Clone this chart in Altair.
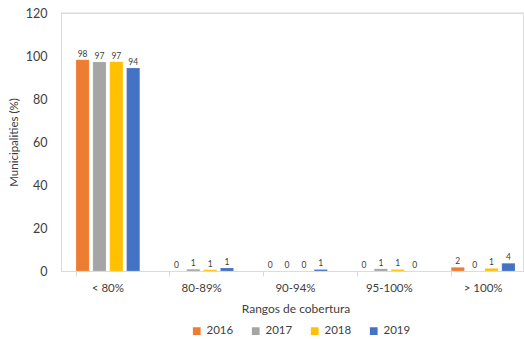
import altair as alt
import pandas as pd

categories = ["< 80%", "80-89%", "90-94%", "95-100%", "> 100%"]
years = ["2016", "2017", "2018", "2019"]
v2016 = [98.2, 0.0, 0.0, 0.0, 1.7]
v2017 = [97.2, 0.8, 0.0, 1.0, 0.0]
v2018 = [97.3, 0.6, 0.0, 0.7, 1.2]
v2019 = [94.4, 1.4, 0.7, 0.0, 3.6]
colors = ["#ED7D31", "#A5A5A5", "#FFC000", "#4472C4"]
y_ticks = [0, 20, 40, 60, 80, 100, 120]

rows = []
for yr, vals in zip(years, [v2016, v2017, v2018, v2019]):
    for c, v in zip(categories, vals):
        rows.append({"cat": c, "year": yr, "value": v, "label": str(int(round(v)))})
df = pd.DataFrame(rows)

FONT = "Lato"
TXT = "#404040"

x_enc = alt.X("cat:N", sort=categories,
              scale=alt.Scale(range=[0, 469], paddingInner=0.32, paddingOuter=0.16),
              axis=alt.Axis(title="Rangos de cobertura", labelAngle=0, bandPosition=0,
                            ticks=True, tickSize=5, tickColor="#D9D9D9",
                            domainColor="#D9D9D9", labelFontSize=11.5, labelColor=TXT,
                            labelPadding=6, titleFontSize=12, titleFontWeight="normal",
                            titleColor=TXT, titlePadding=10, labelFont=FONT, titleFont=FONT))
xo_enc = alt.XOffset("year:N", sort=years,
                     scale=alt.Scale(paddingInner=0.22, paddingOuter=0))
y_scale = alt.Scale(domain=[0, 120])

bars = alt.Chart(df).mark_bar(stroke="white", strokeWidth=0.3, strokeOpacity=0.5).encode(
    x=x_enc,
    xOffset=xo_enc,
    y=alt.Y("value:Q", scale=y_scale,
            axis=alt.Axis(title="Municipalities (%)", values=y_ticks, grid=False,
                          ticks=False, domainColor="#D9D9D9", labelFontSize=12.5,
                          labelColor=TXT, labelPadding=14, titleFontSize=11.5,
                          titleFontWeight="normal", titleColor=TXT, titlePadding=6,
                          labelFont=FONT, titleFont=FONT)),
    color=alt.Color("year:N", sort=years,
                    scale=alt.Scale(domain=years, range=colors),
                    legend=alt.Legend(title=None, orient="none", direction="horizontal",
                                      legendX=130, legendY=312,
                                      symbolType="square", symbolSize=60, symbolStrokeWidth=0,
                                      labelFontSize=11.5, labelColor=TXT, labelFont=FONT,
                                      columnPadding=16)),
)

labels = alt.Chart(df).mark_text(dy=-6, fontSize=8.5, color=TXT, font=FONT).encode(
    x=alt.X("cat:N", sort=categories),
    xOffset=alt.XOffset("year:N", sort=years),
    y=alt.Y("value:Q", scale=y_scale),
    text="label:N",
)

top = alt.Chart(pd.DataFrame({"y": [120]})).mark_rule(color="#D9D9D9").encode(
    y=alt.Y("y:Q", scale=y_scale),
    x=alt.value(0), x2=alt.value(469),
)

chart = alt.layer(top, bars, labels).properties(
    width=462, height=258,
    autosize=alt.AutoSizeParams(type="none"),
    padding={"left": 61, "top": 13, "right": 1, "bottom": 68},
).configure_view(stroke=None).configure(background="white")

chart.save("out.html", embed_options={"renderer": "svg", "actions": False})
